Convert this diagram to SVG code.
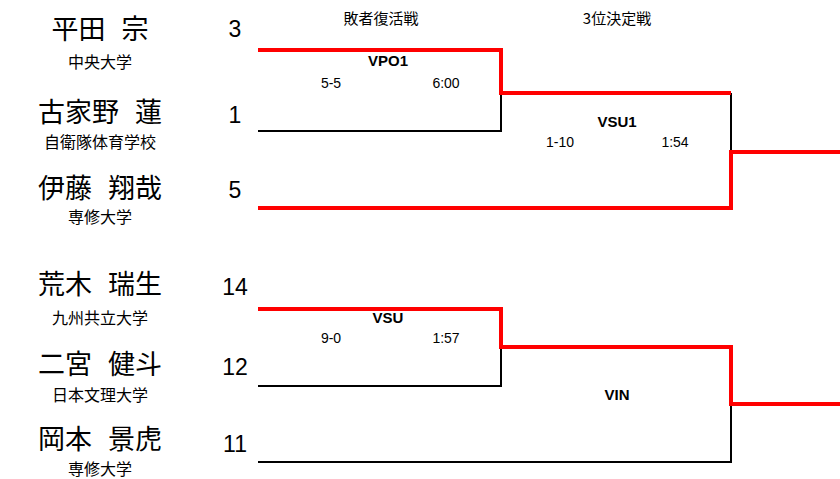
<svg xmlns="http://www.w3.org/2000/svg" width="840" height="479" viewBox="0 0 840 479">
<style>
.name{font-family:"Noto Sans CJK JP","Noto Sans",sans-serif;font-size:27px;word-spacing:10px;fill:#000;text-anchor:middle}
.org{font-family:"Noto Sans CJK JP","Noto Sans",sans-serif;font-size:16px;fill:#000;text-anchor:middle}
.hdr{font-family:"Noto Sans CJK JP","Noto Sans",sans-serif;font-size:15px;fill:#000;text-anchor:middle}
.seed{font-family:"Liberation Sans",Arial,sans-serif;font-size:23px;fill:#000;text-anchor:middle}
.code{font-family:"Liberation Sans",Arial,sans-serif;font-size:15px;font-weight:bold;fill:#000;text-anchor:middle}
.res{font-family:"Liberation Sans",Arial,sans-serif;font-size:14px;fill:#000;text-anchor:middle}
.lose{fill:none;stroke:#000;stroke-width:2}
.win{fill:none;stroke:#f00;stroke-width:4}
</style>
<rect width="840" height="479" fill="#fff"/>
<g id="headers">
<text class="hdr" x="381" y="24">敗者復活戦</text>
<text class="hdr" x="617" y="24">3位決定戦</text>
</g>
<g id="connectors">
<polyline class="lose" points="258,131 501,131 501,93"/>
<polyline class="lose" points="731,93 731,152"/>
<polyline class="lose" points="258,386 501,386 501,347"/>
<polyline class="lose" points="258,462 731,462 731,404"/>
<polyline class="win" points="258,50 501,50 501,93 731,93"/>
<polyline class="win" points="258,208 731,208 731,152 840,152"/>
<polyline class="win" points="258,309 501,309 501,347 731,347 731,404 840,404"/>
</g>
<g id="p-hirata">
<text class="name" x="100" y="39">平田 宗</text>
<text class="org" x="100" y="68">中央大学</text>
<text class="seed" x="235" y="37">3</text>
</g>
<g id="p-kokeno">
<text class="name" x="100" y="122">古家野 蓮</text>
<text class="org" x="100" y="148">自衛隊体育学校</text>
<text class="seed" x="235" y="123">1</text>
</g>
<g id="p-ito">
<text class="name" x="100" y="198">伊藤 翔哉</text>
<text class="org" x="100" y="223">専修大学</text>
<text class="seed" x="235" y="198">5</text>
</g>
<g id="p-araki">
<text class="name" x="100" y="294">荒木 瑞生</text>
<text class="org" x="100" y="324">九州共立大学</text>
<text class="seed" x="235" y="295">14</text>
</g>
<g id="p-ninomiya">
<text class="name" x="100" y="374">二宮 健斗</text>
<text class="org" x="100" y="401">日本文理大学</text>
<text class="seed" x="235" y="375">12</text>
</g>
<g id="p-okamoto">
<text class="name" x="100" y="449">岡本 景虎</text>
<text class="org" x="100" y="475">専修大学</text>
<text class="seed" x="235" y="452">11</text>
</g>
<g id="m-vpo1">
<text class="code" x="388" y="66">VPO1</text>
<text class="res" x="331" y="88">5-5</text>
<text class="res" x="446" y="88">6:00</text>
</g>
<g id="m-vsu1">
<text class="code" x="617" y="127">VSU1</text>
<text class="res" x="560" y="147">1-10</text>
<text class="res" x="675" y="147">1:54</text>
</g>
<g id="m-vsu">
<text class="code" x="388" y="323">VSU</text>
<text class="res" x="331" y="343">9-0</text>
<text class="res" x="446" y="343">1:57</text>
</g>
<g id="m-vin">
<text class="code" x="617" y="400">VIN</text>
</g>
</svg>
